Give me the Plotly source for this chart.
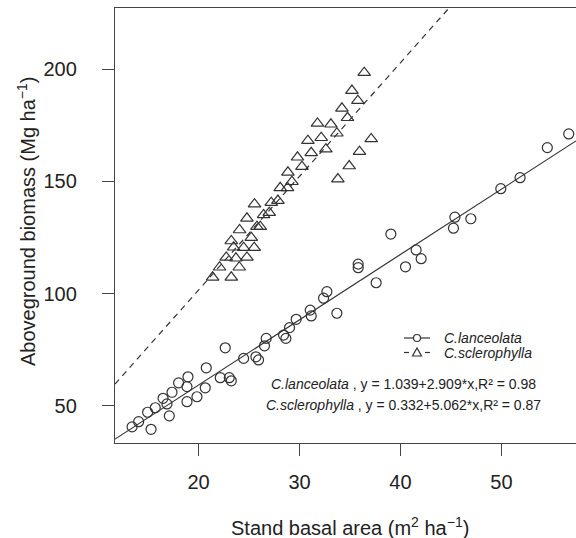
import numpy as np
import plotly.graph_objects as go

# ---------------- data ----------------
species = ["C.lanceolata", "C.sclerophylla"]

lan_x = [13.41, 14.06, 15.29, 14.95, 15.71, 16.48, 16.87, 17.10, 17.37, 18.02,
         18.85, 18.95, 18.85, 19.84, 20.66, 20.76, 22.15, 22.64, 23.04, 23.24,
         24.46, 25.68, 25.94, 26.53, 26.70, 28.42, 28.65, 29.01, 29.67, 31.06,
         31.16, 32.38, 32.71, 33.70, 37.59, 35.81, 35.81, 39.05, 40.50, 41.55,
         42.05, 45.25, 45.39, 46.97, 49.94, 51.85, 54.55, 56.67]
lan_y = [40.6, 42.9, 39.5, 47.1, 49.1, 53.3, 50.8, 45.5, 56.0, 60.2,
         58.5, 62.9, 51.8, 54.0, 58.0, 66.9, 62.5, 75.8, 62.5, 61.1,
         71.1, 71.8, 70.4, 76.7, 80.0, 81.5, 80.0, 84.8, 88.5, 92.6,
         90.0, 97.9, 100.8, 91.2, 104.8, 113.1, 111.5, 126.5, 111.9, 119.4,
         115.5, 129.1, 134.0, 133.3, 146.7, 151.6, 165.0, 171.1]

scl_x = [36.41, 35.19, 35.78, 34.20, 34.75, 31.78, 33.11, 33.70, 32.15, 30.83,
         37.10, 32.61, 31.16, 35.94, 29.80, 30.24, 34.92, 33.80, 28.85, 29.25,
         28.09, 28.81, 27.20, 27.86, 25.54, 27.00, 26.44, 24.79, 25.78, 26.11,
         24.06, 25.22, 23.24, 23.47, 24.46, 25.51, 22.74, 23.70, 24.79, 22.08,
         24.03, 21.39, 23.24]
scl_y = [198.4, 190.4, 185.9, 182.5, 178.3, 175.8, 175.4, 171.4, 169.4, 168.1,
         168.9, 164.3, 162.7, 163.2, 160.7, 156.5, 156.8, 151.0, 154.0, 149.8,
         147.1, 147.1, 140.5, 141.4, 139.8, 136.0, 135.0, 133.5, 129.8, 129.8,
         128.3, 124.9, 123.4, 120.6, 120.4, 120.4, 116.1, 115.7, 116.1, 111.7,
         111.7, 107.2, 107.2]

intercepts = [1.039, 0.332]
slopes = [2.909, 5.062]
r_squared = [0.98, 0.87]

x_ticks = [20, 30, 40, 50]
y_ticks = [50, 100, 150, 200]

# ---------------- style ----------------
FONT = "Liberation Sans, Arial, Helvetica, sans-serif"
INK = "#333333"
AXIS = "#444444"
X_RANGE = [11.72, 57.39]
Y_RANGE = [33.4, 227.2]
W, H = 576, 538
ML, MR, MT, MB = 115, 0, 8, 95
PW, PH = W - ML - MR, H - MT - MB


def px(xp):
    return (xp - ML) / PW


def py(yp):
    return (H - MB - yp) / PH


fig = go.Figure()

# fitted lines (from coefficients), spanning the whole plot
xl = np.array(X_RANGE)
dashes = ["solid", "6px,5px"]
for b0, b1, d in zip(intercepts, slopes, dashes):
    fig.add_trace(go.Scatter(x=xl, y=b0 + b1 * xl, mode="lines",
                             line=dict(color=INK, width=1.2, dash=d),
                             showlegend=False, hoverinfo="skip"))

fig.add_trace(go.Scatter(x=lan_x, y=lan_y, mode="markers", name=species[0],
                         marker=dict(symbol="circle-open", size=10,
                                     color=INK, line=dict(width=1.2, color=INK)),
                         showlegend=False))
fig.add_trace(go.Scatter(x=scl_x, y=scl_y, mode="markers", name=species[1],
                         marker=dict(symbol="triangle-up-open", size=11,
                                     color=INK, line=dict(width=1.2, color=INK)),
                         showlegend=False))

annotations = []
shapes = []

# legend (manual, R-style)
leg_rows = [338, 352.5]
for i, (name, yy) in enumerate(zip(species, leg_rows)):
    if i == 0:
        shapes.append(dict(type="line", xref="paper", yref="paper",
                           x0=px(404), x1=px(430), y0=py(yy), y1=py(yy),
                           line=dict(color=INK, width=1.2)))
        shapes.append(dict(type="circle", xref="paper", yref="paper",
                           xsizemode="pixel", ysizemode="pixel",
                           xanchor=px(417), yanchor=py(yy),
                           x0=-3.5, x1=3.5, y0=-3.5, y1=3.5,
                           line=dict(color=INK, width=1.2), fillcolor="white"))
    else:
        for a, b in [(404, 409), (425, 430)]:
            shapes.append(dict(type="line", xref="paper", yref="paper",
                               x0=px(a), x1=px(b), y0=py(yy), y1=py(yy),
                               line=dict(color=INK, width=1.2)))
        shapes.append(dict(type="path", xref="paper", yref="paper",
                           xsizemode="pixel", ysizemode="pixel",
                           xanchor=px(417), yanchor=py(yy),
                           path="M -4.5 -3.5 L 4.5 -3.5 L 0 4.5 Z",
                           line=dict(color=INK, width=1.2)))
    annotations.append(dict(text="<i>%s</i>" % name, xref="paper", yref="paper",
                            x=px(442), y=py(yy), xanchor="left", yanchor="middle",
                            showarrow=False,
                            font=dict(family=FONT, size=14, color="#222")))

# equations
eq_rows = [384, 405]
for name, b0, b1, r2, yy in zip(species, intercepts, slopes, r_squared, eq_rows):
    txt = "<i>%s</i> , y = %.3f+%.3f*x,R² = %.2f" % (name, b0, b1, r2)
    annotations.append(dict(text=txt, xref="paper", yref="paper",
                            x=px(403), y=py(yy), xanchor="center", yanchor="middle",
                            showarrow=False,
                            font=dict(family=FONT, size=14, color="#222")))

# axis titles
annotations.append(dict(text="Stand basal area (m<sup>2</sup> ha<sup>−1</sup>)",
                        xref="paper", yref="paper", x=px(350), y=py(526),
                        xanchor="center", yanchor="middle", showarrow=False,
                        font=dict(family=FONT, size=20, color="#222")))
annotations.append(dict(text="Aboveground biomass (Mg ha<sup>−1</sup>)",
                        xref="paper", yref="paper", x=px(26), y=py(222),
                        xanchor="center", yanchor="middle", textangle=-90,
                        showarrow=False,
                        font=dict(family=FONT, size=20, color="#222")))

fig.update_layout(
    width=W, height=H,
    margin=dict(l=ML, r=MR, t=MT, b=MB, pad=0),
    paper_bgcolor="white", plot_bgcolor="white",
    font=dict(family=FONT, size=20, color="#222"),
    showlegend=False,
    annotations=annotations,
    shapes=shapes,
    xaxis=dict(range=X_RANGE, tickvals=x_ticks, ticks="outside", ticklen=12,
               tickwidth=1.3, tickcolor=AXIS, showline=True, linecolor=AXIS,
               linewidth=1.3, mirror=True, showgrid=False, zeroline=False,
               ticklabelstandoff=9, tickfont=dict(size=20)),
    yaxis=dict(range=Y_RANGE, tickvals=y_ticks, ticks="outside", ticklen=12,
               tickwidth=1.3, tickcolor=AXIS, showline=True, linecolor=AXIS,
               linewidth=1.3, mirror=False, showgrid=False, zeroline=False,
               ticklabelstandoff=21, tickfont=dict(size=20)),
)

fig.write_html("out.html")
